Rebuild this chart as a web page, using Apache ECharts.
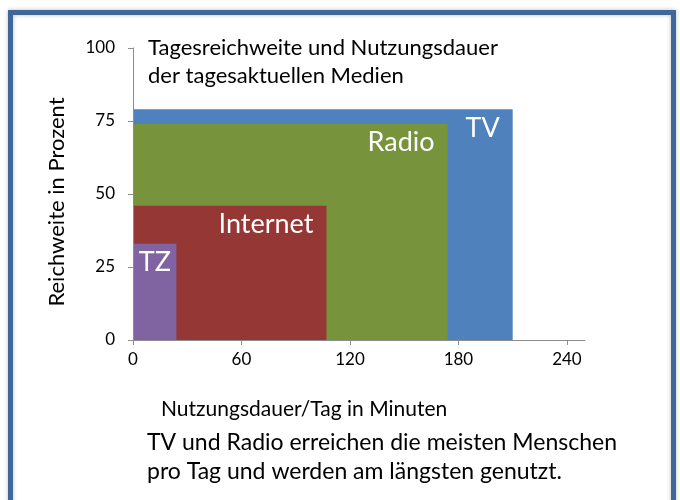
<!DOCTYPE html>
<html>
<head>
<meta charset="utf-8">
<script src="https://cdn.jsdelivr.net/npm/echarts@6/dist/echarts.min.js"></script>
<style>
  html, body { margin: 0; padding: 0; background: #fff; }
  #chart { width: 680px; height: 500px; }
</style>
</head>
<body>
<div id="chart"></div>
<script>
// media: daily usage in minutes (x) and daily reach in percent (y)
const media = ['TV', 'Radio', 'Internet', 'TZ'];
const minutes = [210, 174, 107, 24];
const reach = [79, 74, 46, 33];
const colors = ['#4F81BD', '#77933C', '#953735', '#8064A2'];
const xTicks = [0, 60, 120, 180, 240];

const font = 'Lato, "Open Sans", sans-serif';
const chart = echarts.init(document.getElementById('chart'));

const option = {
  animation: false,
  grid: { left: 133, right: 95, top: 48, bottom: 160 },
  xAxis: {
    type: 'value',
    min: 0,
    max: 250,
    interval: 60,
    splitLine: { show: false },
    axisLine: { lineStyle: { color: '#8C8C8C' } },
    axisTick: { show: true, length: 5, customValues: xTicks, lineStyle: { color: '#8C8C8C' } },
    axisLabel: { customValues: xTicks, color: '#000', fontSize: 17, fontFamily: font, margin: 11 }
  },
  yAxis: {
    type: 'value',
    min: 0,
    max: 100,
    interval: 25,
    splitLine: { show: false },
    axisLine: { show: true, lineStyle: { color: '#8C8C8C' } },
    axisTick: { show: true, length: 5, lineStyle: { color: '#8C8C8C' } },
    axisLabel: { color: '#000', fontSize: 17, fontFamily: font, margin: 18 }
  },
  series: [{
    type: 'custom',
    data: media.map((m, i) => [minutes[i], reach[i], i]),
    renderItem: function (params, api) {
      const i = api.value(2);
      const p0 = api.coord([0, 0]);
      const p1 = api.coord([api.value(0), api.value(1)]);
      // keep the label inside narrow boxes (TZ)
      const lx = Math.max(p1[0] - 13, p0[0] + 38);
      return {
        type: 'group',
        children: [{
          type: 'rect',
          shape: { x: p0[0] + 1, y: p1[1], width: p1[0] - p0[0] - 1, height: p0[1] - p1[1] },
          style: { fill: colors[i] }
        }, {
          type: 'text',
          x: lx,
          y: p1[1] + 5,
          style: {
            text: media[i], fill: '#fff', fontSize: 27, fontFamily: font,
            align: 'right', verticalAlign: 'top'
          }
        }]
      };
    }
  }],
  graphic: [
    {
      type: 'rect',
      shape: { x: 10.5, y: 12.5, width: 663, height: 530 },
      style: { fill: 'none', stroke: '#41669A', lineWidth: 5, shadowBlur: 4, shadowColor: 'rgba(0,0,0,0.25)' }
    },
    {
      type: 'text', left: 148, top: 34,
      style: { text: 'Tagesreichweite und Nutzungsdauer\nder tagesaktuellen Medien', fill: '#000', fontSize: 22, lineHeight: 28, fontFamily: font }
    },
    {
      type: 'text', x: 57, y: 202, rotation: Math.PI / 2,
      style: { text: 'Reichweite in Prozent', fill: '#000', fontSize: 22, fontFamily: font, align: 'center', verticalAlign: 'middle' }
    },
    {
      type: 'text', x: 161, y: 409,
      style: { text: 'Nutzungsdauer/Tag in Minuten', fill: '#000', fontSize: 21, fontFamily: font, verticalAlign: 'middle' }
    },
    {
      type: 'text', left: 147, top: 428,
      style: { text: 'TV und Radio erreichen die meisten Menschen\npro Tag und werden am längsten genutzt.', fill: '#000', fontSize: 23, lineHeight: 29, fontFamily: font }
    }
  ]
};

chart.setOption(option);
</script>
</body>
</html>
